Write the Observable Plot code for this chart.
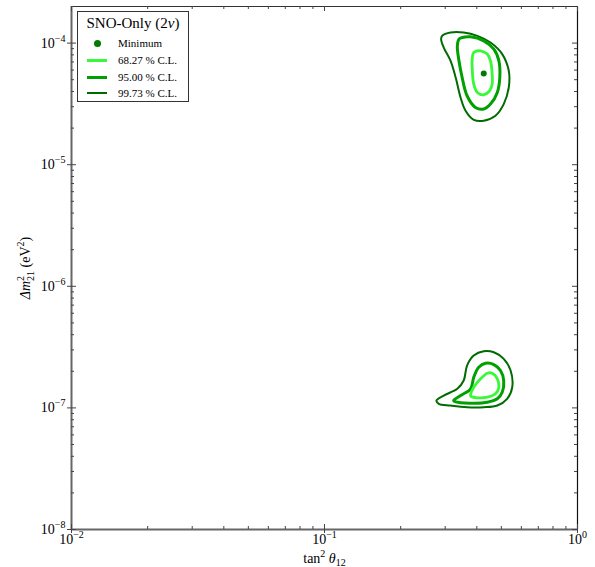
<!DOCTYPE html>
<html><head><meta charset="utf-8">
<script src="https://cdn.jsdelivr.net/npm/d3@7"></script>
<script src="https://cdn.jsdelivr.net/npm/@observablehq/plot@0.6"></script>
<style>
body{margin:0;background:#fff;}
#wrap{position:relative;width:595px;height:567px;font-family:"Liberation Serif","Times New Roman",serif;color:#000;}
#legend{position:absolute;left:77px;top:11px;width:110px;height:89px;border:1.5px solid #333;background:#fff;}
#legend .title{position:absolute;left:0;top:2px;width:110px;text-align:center;font-size:15px;line-height:18px;}
#legend .item{position:absolute;left:40px;font-size:11px;line-height:12px;}
#legend .sw{position:absolute;left:9px;width:20px;}
#legend .dot{position:absolute;left:15.5px;top:27.5px;width:7px;height:7px;border-radius:50%;}
</style>
</head><body>
<div id="wrap"></div>
<script>
// ---- data (tan^2 theta12, delta m^2_21 in eV^2) ----
const minimumPoint = [[0.426, 5.62e-5]];

const upper68 = [[0.389,8.37e-5],[0.414,8.64e-5],[0.440,8.12e-5],[0.453,7.15e-5],[0.460,5.56e-5],[0.460,4.60e-5],[0.450,4.06e-5],[0.426,3.76e-5],[0.402,3.93e-5],[0.389,4.60e-5],[0.384,5.92e-5],[0.384,7.61e-5]];
const upper95 = [[0.350,1.112e-4],[0.378,1.127e-4],[0.426,1.044e-4],[0.467,8.93e-5],[0.489,7.15e-5],[0.493,5.21e-5],[0.482,3.93e-5],[0.453,3.15e-5],[0.426,2.87e-5],[0.395,2.96e-5],[0.366,3.69e-5],[0.350,5.21e-5],[0.340,7.15e-5],[0.335,9.50e-5],[0.340,1.079e-4]];
const upper9973 = [[0.292,1.148e-4],[0.315,1.222e-4],[0.355,1.222e-4],[0.402,1.148e-4],[0.453,1.011e-4],[0.504,8.12e-5],[0.535,5.92e-5],[0.535,4.32e-5],[0.511,3.15e-5],[0.474,2.53e-5],[0.426,2.30e-5],[0.389,2.34e-5],[0.361,2.78e-5],[0.345,3.57e-5],[0.330,5.21e-5],[0.315,7.15e-5],[0.296,9.20e-5],[0.289,1.079e-4]];

const lower68 = [[0.378,1.264e-7],[0.389,1.479e-7],[0.414,1.734e-7],[0.440,1.928e-7],[0.460,1.928e-7],[0.482,1.734e-7],[0.489,1.479e-7],[0.474,1.305e-7],[0.440,1.224e-7],[0.402,1.211e-7],[0.380,1.241e-7]];
const lower95 = [[0.324,1.150e-7],[0.345,1.264e-7],[0.378,1.435e-7],[0.389,1.787e-7],[0.407,2.160e-7],[0.433,2.330e-7],[0.467,2.273e-7],[0.496,2.029e-7],[0.511,1.679e-7],[0.504,1.346e-7],[0.482,1.188e-7],[0.440,1.114e-7],[0.389,1.093e-7],[0.345,1.101e-7],[0.327,1.129e-7]];
const lower9973 = [[0.277,1.150e-7],[0.296,1.264e-7],[0.335,1.435e-7],[0.355,1.679e-7],[0.366,2.231e-7],[0.389,2.695e-7],[0.426,2.923e-7],[0.467,2.868e-7],[0.511,2.531e-7],[0.544,2.029e-7],[0.552,1.479e-7],[0.527,1.188e-7],[0.482,1.046e-7],[0.426,1.013e-7],[0.366,1.013e-7],[0.315,1.046e-7],[0.283,1.081e-7]];

const legendTitle = "SNO-Only";
const legendLabels = ["Minimum", "68.27 % C.L.", "95.00 % C.L.", "99.73 % C.L."];
const colors = {c68: "#38f838", c95: "#00a000", c9973: "#006b00", min: "#007a00"};

const xMajor = [0.01, 0.1, 1];
const yMajor = [1e-8, 1e-7, 1e-6, 1e-5, 1e-4];
const minorMult = [2, 3, 4, 5, 6, 7, 8, 9];
const xMinor = [0.01, 0.1].flatMap(b => minorMult.map(k => k * b));
const yMinor = [1e-8, 1e-7, 1e-6, 1e-5].flatMap(b => minorMult.map(k => k * b));

const W = 595, H = 567, mL = 71, mR = 18, mT = 6, mB = 38;
const iw = W - mL - mR, ih = H - mT - mB;
const font = "Liberation Serif, Times New Roman, serif";
const expFmt = d => "10^" + Math.round(Math.log10(d));

const contour = (data, stroke, sw) => Plot.line(data, {x: d => d[0], y: d => d[1], stroke, strokeWidth: sw, curve: "catmull-rom-closed"});

const plot = Plot.plot({
  width: W, height: H, marginLeft: mL, marginRight: mR, marginTop: mT, marginBottom: mB,
  style: {fontFamily: font, fontSize: "14px", background: "white", color: "#000"},
  x: {type: "log", domain: [0.01, 1], axis: null},
  y: {type: "log", domain: [1e-8, 2e-4], axis: null},
  marks: [
    contour(upper9973, colors.c9973, 2),
    contour(upper95, colors.c95, 3),
    contour(upper68, colors.c68, 2.8),
    contour(lower9973, colors.c9973, 2),
    contour(lower95, colors.c95, 3),
    contour(lower68, colors.c68, 2.8),
    Plot.dot(minimumPoint, {x: d => d[0], y: d => d[1], r: 3, fill: colors.min}),
    // frame
    Plot.ruleY([2e-4], {stroke: "#333", strokeWidth: 1}),
    Plot.ruleX([1], {stroke: "#111", strokeWidth: 1.2}),
    Plot.ruleY([1e-8], {stroke: "#666", strokeWidth: 2}),
    Plot.ruleX([0.01], {stroke: "#666", strokeWidth: 2}),
    // minor ticks (inward)
    Plot.tickX(xMinor, {x: d => d, insetTop: ih - 3, stroke: "#444"}),
    Plot.tickX(xMinor, {x: d => d, insetBottom: ih - 3, stroke: "#444"}),
    Plot.tickY(yMinor, {y: d => d, insetRight: iw - 3, stroke: "#444"}),
    Plot.tickY(yMinor, {y: d => d, insetLeft: iw - 3, stroke: "#444"}),
    // major ticks
    Plot.tickX(xMajor, {x: d => d, insetTop: ih - 5, insetBottom: -4, stroke: "#444"}),
    Plot.tickX(xMajor, {x: d => d, insetBottom: ih - 5, stroke: "#444"}),
    Plot.tickY(yMajor, {y: d => d, insetRight: iw - 5, insetLeft: -4, stroke: "#444"}),
    Plot.tickY(yMajor, {y: d => d, insetLeft: iw - 5, stroke: "#444"}),
    Plot.axisX(xMajor, {anchor: "bottom", tickSize: 0, tickPadding: 5, tickFormat: expFmt, fontSize: 14,
      label: "tan2 θ12", labelAnchor: "center", labelArrow: "none", labelOffset: 33}),
    Plot.axisY(yMajor, {anchor: "left", tickSize: 0, tickPadding: 6, tickFormat: expFmt, fontSize: 14,
      label: "Δm2 21 (eV2)", labelAnchor: "center", labelArrow: "none", labelOffset: 51})
  ]
});

// rich text helpers
function rich(el, parts) {
  const s = d3.select(el); s.text(null);
  for (const p of parts) {
    const t = s.append("tspan").text(p.t);
    if (p.dy) t.attr("dy", p.dy);
    if (p.dx) t.attr("dx", p.dx);
    if (p.size) t.attr("font-size", p.size);
    if (p.italic) t.attr("font-style", "italic");
  }
}
d3.select(plot).selectAll('g[aria-label="x-axis tick label"] text, g[aria-label="y-axis tick label"] text').each(function() {
  const txt = this.textContent; const e = +txt.split("^")[1];
  rich(this, [{t: "10"}, {t: (e < 0 ? "\u2212" : "") + Math.abs(e), size: 10, dy: -6}]);
});
d3.select(plot).selectAll('g[aria-label="x-axis label"] text').each(function() {
  rich(this, [{t: "tan"}, {t: "2", size: 10, dy: -6}, {t: " ", dy: 6}, {t: "θ", italic: true}, {t: "12", size: 10, dy: 3}]);
});
d3.select(plot).selectAll('g[aria-label="y-axis label"] text').each(function() {
  rich(this, [{t: "Δm", italic: true}, {t: "2", size: 10, dy: -6}, {t: "21", size: 10, dy: 10, dx: -5}, {t: " (eV", dy: -4}, {t: "2", size: 10, dy: -6}, {t: ")", dy: 6}]);
});

const wrap = document.getElementById("wrap");
wrap.appendChild(plot);

// legend
const lg = document.createElement("div"); lg.id = "legend";
lg.innerHTML = `<div class="title">${legendTitle} (2<i>ν</i>)</div>
<div class="dot" style="background:${colors.min}"></div>
<div class="item" style="top:25px">${legendLabels[0]}</div>
<div class="sw" style="top:47px;border-top:3px solid ${colors.c68}"></div>
<div class="item" style="top:42px">${legendLabels[1]}</div>
<div class="sw" style="top:63.5px;border-top:3px solid ${colors.c95}"></div>
<div class="item" style="top:59px">${legendLabels[2]}</div>
<div class="sw" style="top:80px;border-top:2.5px solid ${colors.c9973}"></div>
<div class="item" style="top:75px">${legendLabels[3]}</div>`;
wrap.appendChild(lg);
</script>
</body></html>
